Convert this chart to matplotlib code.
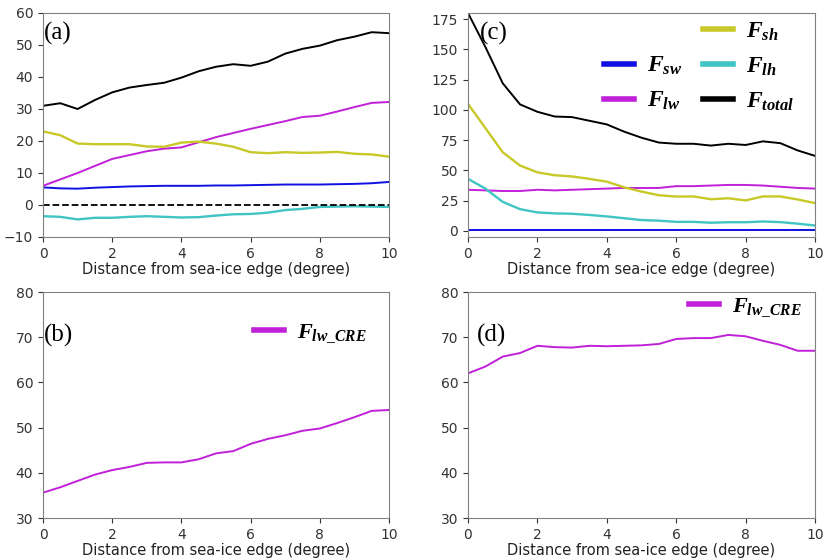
import numpy as np
from matplotlib import pyplot as plt
from matplotlib.lines import Line2D

plt.rcParams['mathtext.fontset'] = 'custom'
plt.rcParams['mathtext.it'] = 'Liberation Serif:italic:bold'
plt.rcParams['mathtext.rm'] = 'Liberation Serif:bold'
plt.rcParams['mathtext.bf'] = 'Liberation Serif:italic:bold'

dist = np.arange(0, 10.5, 0.5)

# panel (a)
a_sw = [5.5, 5.2, 5.1, 5.4, 5.6, 5.8, 5.9, 6.0, 6.0, 6.0, 6.1, 6.1, 6.2, 6.3, 6.4, 6.4, 6.4, 6.5, 6.6, 6.8, 7.2]
a_lw = [6.0, 8.0, 10.0, 12.2, 14.4, 15.6, 16.8, 17.6, 18.0, 19.6, 21.2, 22.5, 23.8, 25.0, 26.2, 27.5, 27.9, 29.2, 30.6, 31.9, 32.2]
a_sh = [23.0, 21.8, 19.2, 19.0, 19.0, 19.0, 18.3, 18.2, 19.5, 19.8, 19.2, 18.2, 16.5, 16.2, 16.5, 16.3, 16.4, 16.6, 16.0, 15.8, 15.1]
a_lh = [-3.5, -3.7, -4.5, -4.0, -4.0, -3.7, -3.5, -3.7, -3.9, -3.8, -3.3, -2.9, -2.8, -2.4, -1.6, -1.2, -0.6, -0.5, -0.4, -0.5, -0.6]
a_total = [31.0, 31.8, 30.0, 32.8, 35.2, 36.7, 37.5, 38.2, 39.8, 41.8, 43.2, 44.0, 43.5, 44.8, 47.3, 48.8, 49.8, 51.5, 52.6, 54.0, 53.7]

# panel (c)
c_sw = [0.4] * 21
c_lw = [34.0, 33.5, 33.0, 33.0, 34.0, 33.5, 34.0, 34.5, 35.0, 35.5, 35.5, 35.5, 37.0, 37.0, 37.5, 38.0, 38.0, 37.5, 36.5, 35.5, 35.0]
c_sh = [105.0, 85.0, 65.0, 54.0, 48.4, 46.0, 45.0, 43.0, 40.7, 36.0, 32.5, 29.5, 28.4, 28.5, 26.2, 27.0, 25.2, 28.5, 28.5, 26.0, 23.0]
c_lh = [43.0, 35.0, 24.0, 18.0, 15.3, 14.5, 14.2, 13.2, 12.0, 10.5, 9.0, 8.5, 7.5, 7.5, 6.8, 7.2, 7.2, 7.8, 7.3, 6.0, 4.5]
c_total = [180.0, 152.0, 122.0, 104.5, 98.4, 94.5, 94.0, 91.0, 88.0, 82.0, 77.0, 73.0, 72.0, 72.0, 70.5, 72.0, 71.0, 74.0, 72.5, 66.5, 62.0]

# panels (b) and (d)
b_cre = [35.6, 36.8, 38.2, 39.6, 40.6, 41.3, 42.2, 42.3, 42.3, 43.0, 44.3, 44.8, 46.4, 47.5, 48.3, 49.3, 49.8, 51.0, 52.3, 53.7, 53.9]
d_cre = [62.0, 63.5, 65.7, 66.5, 68.1, 67.8, 67.7, 68.1, 68.0, 68.1, 68.2, 68.5, 69.6, 69.8, 69.8, 70.5, 70.2, 69.2, 68.3, 67.0, 67.0]

col_sw = '#1010e0'
col_lw = '#c020d8'
col_sh = '#c8c828'
col_lh = '#40c4c4'
col_tot = 'black'

W, H = 824, 560
fig = plt.figure(figsize=(8.24, 5.6), dpi=100)


def make_ax(l, t, r, b):
    ax = fig.add_axes([l / W, 1 - b / H, (r - l) / W, (b - t) / H])
    for s in ax.spines.values():
        s.set_color('#808080')
    ax.tick_params(colors='#333333', labelsize=10, length=3.5)
    ax.set_xlim(0, 10)
    ax.set_xticks([0, 2, 4, 6, 8, 10])
    ax.set_xlabel('Distance from sea-ice edge (degree)', fontsize=10.5, color='#222222', labelpad=1)
    return ax


ax_a = make_ax(43, 13, 389, 237)
ax_c = make_ax(468, 13, 815, 237)
ax_b = make_ax(43, 292, 389, 518)
ax_d = make_ax(468, 292, 815, 518)

lw = 1.4
for ax, sw, lwv, sh, lh, tot in [(ax_a, a_sw, a_lw, a_sh, a_lh, a_total),
                                  (ax_c, c_sw, c_lw, c_sh, c_lh, c_total)]:
    ax.plot(dist, sw, color=col_sw, lw=lw, label=r'$F_{sw}$')
    ax.plot(dist, lwv, color=col_lw, lw=lw, label=r'$F_{lw}$')
    ax.plot(dist, sh, color=col_sh, lw=lw + 0.3, label=r'$F_{sh}$')
    ax.plot(dist, lh, color=col_lh, lw=lw + 0.3, label=r'$F_{lh}$')
    ax.plot(dist, tot, color=col_tot, lw=lw, label=r'$F_{total}$')

ax_a.axhline(0, color='black', ls='--', lw=1.3)
ax_a.set_ylim(-10, 60)
ax_a.set_yticks(range(-10, 61, 10))
ax_c.set_ylim(-5, 180)
ax_c.set_yticks(range(0, 176, 25))

blank = Line2D([], [], color='none')
h, lab = ax_c.get_legend_handles_labels()
order = [blank, h[0], h[1], h[2], h[3], h[4]]
labels = [' ', lab[0], lab[1], lab[2], lab[3], lab[4]]
leg = ax_c.legend(order, labels, ncol=2, loc='upper right', frameon=False,
                  fontsize=17, handlelength=1.25, handletextpad=0.55,
                  columnspacing=0.9, labelspacing=0.45,
                  bbox_to_anchor=(1.0, 1.07))
for line in leg.get_lines():
    line.set_linewidth(4)

ax_b.plot(dist, b_cre, color=col_lw, lw=lw, label=r'$F_{lw\_CRE}$')
ax_d.plot(dist, d_cre, color=col_lw, lw=lw, label=r'$F_{lw\_CRE}$')
for ax, anchor in [(ax_b, (0.995, 0.955)), (ax_d, (1.02, 1.07))]:
    ax.set_ylim(30, 80)
    ax.set_yticks(range(30, 81, 10))
    lg = ax.legend(loc='upper right', frameon=False, fontsize=16,
                   handlelength=1.35, handletextpad=0.6, bbox_to_anchor=anchor)
    for line in lg.get_lines():
        line.set_linewidth(4)

for ax, tag, pos in [(ax_a, '(a)', (0.003, 0.96)), (ax_c, '(c)', (0.035, 0.96)),
                     (ax_b, '(b)', (0.003, 0.86)), (ax_d, '(d)', (0.025, 0.86))]:
    ax.text(pos[0], pos[1], tag, transform=ax.transAxes, ha='left', va='top',
            fontsize=18, family=['Liberation Serif', 'DejaVu Serif'])

fig.savefig('out.png', dpi=100)
